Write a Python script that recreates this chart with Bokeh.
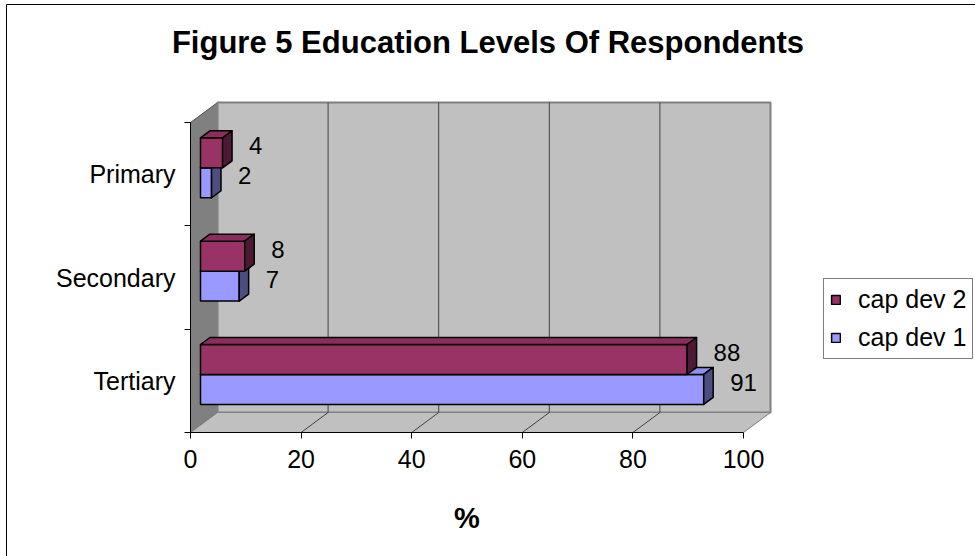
from bokeh.plotting import figure
from bokeh.models import (Range1d, FixedTicker, Legend, LegendItem, Label,
                          ColumnDataSource)
from bokeh.core.properties import value
from bokeh.embed import file_html
from bokeh.resources import INLINE

# ---- data (categories listed bottom to top) ----
categories = ["Tertiary", "Secondary", "Primary"]
cap_dev_1 = [91, 7, 2]
cap_dev_2 = [88, 8, 4]
series_names = ["cap dev 1", "cap dev 2"]
x_ticks = [0, 20, 40, 60, 80, 100]

# ---- canvas geometry: the plot frame covers the whole canvas ----
W, H = 975, 556
ORIGIN_X, ORIGIN_Y = 190, 432      # pixel position of value 0 / band 0
PX_X = 553 / 100                   # pixels per percent on the front axis
BAND_PX = 310 / 3                  # pixels per category band
N = len(categories)


def dx(px):
    """canvas x pixel -> data x"""
    return (px - ORIGIN_X) / PX_X


def dy(py):
    """canvas y pixel (from top) -> data y"""
    return (ORIGIN_Y - py) / BAND_PX


# depth vector of the 3-D box, in data units
DX = 27 / PX_X
DY = 20 / BAND_PX
# bar placement inside the depth / band
D0, DD = 0.37, 0.35          # start and thickness along the depth
B0, BH = 0.20, 0.29          # offset of lower bar and bar height in a band

FONT = "Liberation Sans"

p = figure(width=W, height=H, x_range=Range1d(dx(0), dx(W)),
           y_range=Range1d(dy(H), dy(0)),
           output_backend="svg", toolbar_location=None, title_location=None,
           min_border_left=0, min_border_right=0, min_border_top=0,
           min_border_bottom=0,
           background_fill_color="white", border_fill_color="white",
           outline_line_color=None)
p.xgrid.visible = False
p.ygrid.visible = False

# ---- chart border (left and top edges) ----
p.line([dx(6), dx(6), dx(W + 20)], [dy(H + 20), dy(4), dy(4)],
       line_color="black", line_width=1)

# ---- walls and floor ----
x_max = x_ticks[-1]
p.patch([0, 0, DX, DX], [0, N, N + DY, DY], fill_color="#808080",
        line_color="#505050", line_width=1)
p.patch([DX, x_max + DX, x_max + DX, DX], [DY, DY, N + DY, N + DY],
        fill_color="#c0c0c0", line_color="#808080", line_width=2)
p.patch([0, x_max, x_max + DX, DX], [0, 0, DY, DY], fill_color="#c0c0c0",
        line_color="#808080", line_width=1)

inner = [t for t in x_ticks if 0 < t < x_max]
# back-wall gridlines
p.segment(x0=[t + DX for t in inner], y0=[DY] * len(inner),
          x1=[t + DX for t in inner], y1=[N + DY] * len(inner),
          line_color="#404040", line_width=1)
# floor gridlines
p.segment(x0=inner, y0=[0] * len(inner),
          x1=[t + DX for t in inner], y1=[DY] * len(inner),
          line_color="#404040", line_width=1)

# ---- 3-D bars ----
styles = {
    "cap dev 1": dict(front="#9999ff", top="#8f8ff0", side="#4d4d80"),
    "cap dev 2": dict(front="#993366", top="#8c2e5d", side="#4d1a33"),
}


def draw_bars(vals, slot, name):
    st = styles[name]
    idx = range(len(vals))
    left = [DX * D0 for _ in vals]
    right = [v + DX * D0 for v in vals]
    bottom = [i + B0 + slot * BH + DY * D0 for i in idx]
    top = [b + BH for b in bottom]
    ddx, ddy = DX * DD, DY * DD
    front = p.quad(left=left, right=right, bottom=bottom, top=top,
                   fill_color=st["front"], line_color="black", line_width=1.5)
    p.patches([[l, r, r + ddx, l + ddx] for l, r in zip(left, right)],
              [[t, t, t + ddy, t + ddy] for t in top],
              fill_color=st["top"], line_color="black", line_width=1.5,
              line_join="round")
    p.patches([[r, r, r + ddx, r + ddx] for r in right],
              [[b, t, t + ddy, b + ddy] for b, t in zip(bottom, top)],
              fill_color=st["side"], line_color="black", line_width=1.5,
              line_join="round")
    lab = ColumnDataSource(dict(
        x=[r + ddx for r in right],
        y=[(b + t) / 2 + ddy for b, t in zip(bottom, top)],
        text=[str(v) for v in vals]))
    p.text(x="x", y="y", text="text", source=lab, x_offset=17,
           text_align="left", text_baseline="middle",
           text_font=value(FONT), text_font_size="24px", text_color="black")
    return front


r1 = draw_bars(cap_dev_1, 0, series_names[0])
r2 = draw_bars(cap_dev_2, 1, series_names[1])

# ---- axes, pinned to the front edges of the box ----
xa = p.xaxis[0]
xa.fixed_location = 0
xa.ticker = FixedTicker(ticks=x_ticks)
xa.bounds = (0, x_max)
xa.axis_line_color = "black"
xa.axis_line_width = 1
xa.major_tick_in = 0
xa.major_tick_out = 6
xa.minor_tick_line_color = None
xa.major_label_standoff = 11
xa.major_label_text_font = FONT
xa.major_label_text_font_size = "25px"
xa.major_label_text_color = "black"

ya = p.yaxis[0]
ya.fixed_location = 0
ya.ticker = FixedTicker(ticks=[i + 0.5 for i in range(N)],
                        minor_ticks=list(range(N + 1)))
ya.major_label_overrides = {i + 0.5: c for i, c in enumerate(categories)}
ya.bounds = (0, N)
ya.axis_line_color = "black"
ya.major_tick_line_color = None
ya.major_tick_in = 0
ya.major_tick_out = 0
ya.minor_tick_line_color = "black"
ya.minor_tick_in = 0
ya.minor_tick_out = 6
ya.major_label_standoff = 9
ya.major_label_text_font = FONT
ya.major_label_text_font_size = "25px"
ya.major_label_text_color = "black"

# axis title
p.add_layout(Label(x=x_max / 2, y=dy(517), text="%", text_align="center",
                   text_baseline="middle", text_font=FONT,
                   text_font_size="29px", text_font_style="bold",
                   text_color="black"))

# chart title
p.add_layout(Label(x=dx(W / 2), y=dy(42), 
                   text="Figure 5 Education Levels Of Respondents",
                   text_align="center", text_baseline="alphabetic",
                   text_font=FONT, text_font_size="31px",
                   text_font_style="bold", text_color="black"))

# ---- legend ----
legend = Legend(items=[LegendItem(label=series_names[1], renderers=[r2]),
                       LegendItem(label=series_names[0], renderers=[r1])],
                location=(823, H - 359), orientation="vertical",
                border_line_color="black", border_line_width=1,
                background_fill_color="white", background_fill_alpha=1,
                padding=6, spacing=9,
                glyph_width=11, glyph_height=11, label_standoff=17,
                label_text_font=FONT, label_text_font_size="25px",
                label_text_color="black", margin=0)
p.add_layout(legend)

open("out.html", "w").write(file_html(p, INLINE))
